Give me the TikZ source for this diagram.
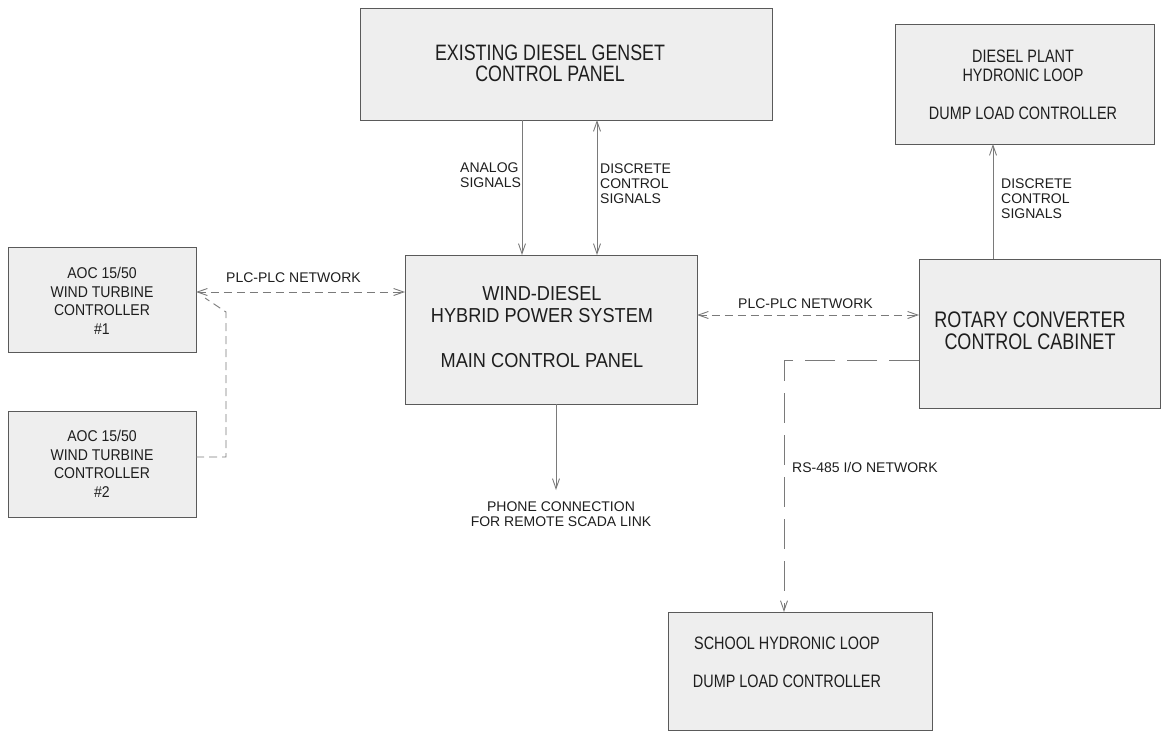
\documentclass[tikz,border=0pt]{standalone}
\usepackage{fontspec}
\setmainfont{Liberation Sans}
\newfontfamily\cfont{Liberation Sans}[FakeStretch=0.8]
\newfontfamily\mfont{Liberation Sans}[FakeStretch=0.9]
\usetikzlibrary{arrows.meta,calc}
\definecolor{boxfill}{HTML}{EEEEEE}
\definecolor{boxline}{HTML}{5A5A5A}
\definecolor{wire}{HTML}{7A7A7A}
\definecolor{ink}{HTML}{1E1E1E}
\begin{document}
\begin{tikzpicture}[x=1pt,y=-1pt,
  panel/.style={draw=boxline, fill=boxfill, line width=0.9pt, anchor=north west, inner sep=0pt, outer sep=0pt},
  boxtext/.style={text=ink, align=center, anchor=north, inner sep=0pt},
  lbl/.style={text=ink, font=\fontsize{14}{15}\selectfont, inner sep=0pt, align=left},
  wireline/.style={draw=wire, line width=0.9pt},
  tipend/.style={-{Straight Barb[length=10pt,width=7pt]}},
  tipboth/.style={{Straight Barb[length=10pt,width=7pt]}-{Straight Barb[length=10pt,width=7pt]}},
  shortdash/.style={dash pattern=on 8pt off 5pt},
  longdash/.style={dash pattern=on 30pt off 12pt}
]
\useasboundingbox (0,0) rectangle (1162,732);
\fill[white] (0,0) rectangle (1162,732);

% boxes
\node[panel, minimum width=412pt, minimum height=112pt] (genset) at (360,8) {};
\node[panel, minimum width=292pt, minimum height=149pt] (main) at (405,255) {};
\node[panel, minimum width=188pt, minimum height=105pt] (aoc1) at (8,247) {};
\node[panel, minimum width=188pt, minimum height=106pt] (aoc2) at (8,411) {};
\node[panel, minimum width=241pt, minimum height=149pt] (rot) at (919,259) {};
\node[panel, minimum width=259pt, minimum height=120pt] (dp) at (895,24) {};
\node[panel, minimum width=264pt, minimum height=118pt] (school) at (668,612) {};

% box texts
\node[boxtext, font={\fontsize{22.3}{21}\cfont}] (gensettext) at (550,45) {EXISTING DIESEL GENSET\\CONTROL PANEL};
\node[boxtext, font={\fontsize{20.2}{22.5}\mfont}] (maintext) at (542,286) {WIND-DIESEL\\HYBRID POWER SYSTEM\\[22.5pt]MAIN CONTROL PANEL};
\node[boxtext, font={\fontsize{15.6}{18.5}\mfont}] (aoc1text) at (102,267) {AOC 15/50\\WIND TURBINE\\CONTROLLER\\\#1};
\node[boxtext, font={\fontsize{15.6}{18.7}\mfont}] (aoc2text) at (102,430) {AOC 15/50\\WIND TURBINE\\CONTROLLER\\\#2};
\node[boxtext, font={\fontsize{22.5}{22}\cfont}] (rottext) at (1030,312) {ROTARY CONVERTER\\CONTROL CABINET};
\node[boxtext, font={\fontsize{18}{19}\cfont}] (dptext) at (1023,50) {DIESEL PLANT\\HYDRONIC LOOP\\[19pt]DUMP LOAD CONTROLLER};
\node[boxtext, font={\fontsize{18}{19}\cfont}] (schooltext) at (787,637) {SCHOOL HYDRONIC LOOP\\[19pt]DUMP LOAD CONTROLLER};

% reference coordinates
\coordinate (xa) at (522,0);
\coordinate (xd) at (597,0);
\coordinate (xp) at (556,0);
\coordinate (xr) at (993,0);
\coordinate (xs) at (784,0);
\coordinate (xb) at (226,0);
\coordinate (yl) at (0,292);
\coordinate (yr) at (0,315);
\coordinate (yrs) at (0,360);
\coordinate (y2) at (0,457);
\coordinate (yb) at (0,312);

% labels
\node[lbl, anchor=north west] (analog) at (460,163) {ANALOG\\SIGNALS};
\node[lbl, anchor=north west] (disc1) at (600,164) {DISCRETE\\CONTROL\\SIGNALS};
\node[lbl, anchor=north west] (disc2) at (1001,179) {DISCRETE\\CONTROL\\SIGNALS};
\node[lbl, anchor=base west] (plcl) at (226,282) {PLC-PLC NETWORK};
\node[lbl, anchor=base west] (plcr) at (738,308) {PLC-PLC NETWORK};
\node[lbl, anchor=base west] (rs) at (792,472) {RS-485 I/O NETWORK};
\node[lbl, anchor=north, align=center] (phone) at (561,502) {PHONE CONNECTION\\FOR REMOTE SCADA LINK};

% connectors
\draw[wireline, tipend] (genset.south -| xa) -- (main.north -| xa);
\draw[wireline, tipboth] (genset.south -| xd) -- (main.north -| xd);
\draw[wireline, tipend] (main.south -| xp) -- ($(phone.north -| xp)+(0,-12)$);
\draw[wireline, tipend] (rot.north -| xr) -- (dp.south -| xr);
\draw[wireline, shortdash, tipboth] (aoc1.east |- yl) -- (main.west |- yl);
\draw[wireline, shortdash, tipboth] (main.east |- yr) -- (rot.west |- yr);
\draw[wireline, shortdash, shorten >=11pt] (aoc2.east |- y2) -- (xb |- y2) -- (xb |- yb) -- (aoc1.east |- yl);
\draw[wireline, longdash, tipend] (rot.west |- yrs) -- (xs |- yrs) -- (school.north -| xs);
\end{tikzpicture}
\end{document}
